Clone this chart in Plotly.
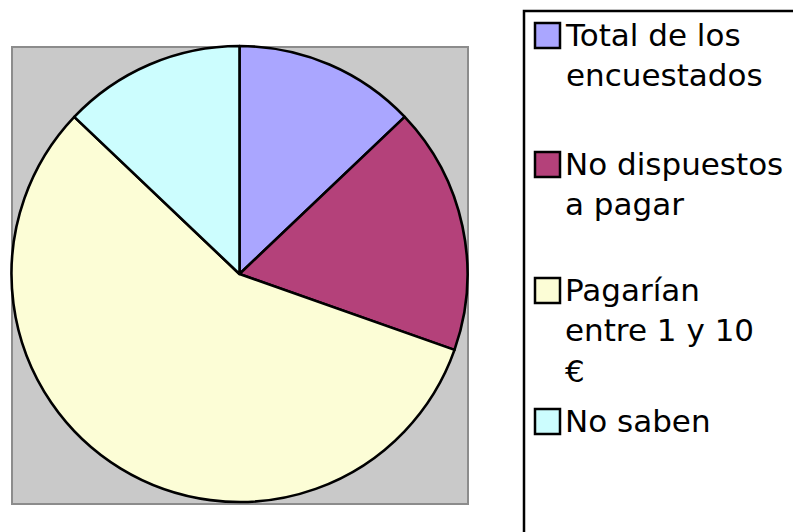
import plotly.graph_objects as go

# Survey answers (share of respondents, %)
labels = ["Total de los encuestados", "No dispuestos a pagar", "Pagarían entre 1 y 10 €", "No saben"]
legend_text = ["Total de los<br>encuestados", "No dispuestos<br>a pagar", "Pagarían<br>entre 1 y 10<br>€", "No saben"]
values = [12.9, 17.5, 56.7, 12.9]

slice_colors = ["#aaa6ff", "#b4417a", "#fcfdd6", "#ccfdfe"]

W, H = 793, 532


def px_x(x):
    return x / W


def px_y(y):
    return 1 - y / H


fig = go.Figure()

fig.add_trace(go.Pie(
    labels=labels,
    values=values,
    sort=False,
    direction="clockwise",
    rotation=0,
    textinfo="none",
    hoverinfo="label+percent",
    marker=dict(colors=slice_colors, line=dict(color="black", width=2.6)),
    domain=dict(x=[px_x(11.5), px_x(467.5)], y=[px_y(502), px_y(46)]),
    showlegend=False,
))

shapes = [
    # grey plot area behind the pie
    dict(type="rect", xref="paper", yref="paper",
         x0=px_x(12), x1=px_x(468), y0=px_y(504), y1=px_y(47),
         fillcolor="#c9c9c9", line=dict(color="#8c8c8c", width=2), layer="below"),
    # legend frame
    dict(type="rect", xref="paper", yref="paper",
         x0=px_x(524), x1=px_x(810), y0=px_y(560), y1=px_y(11),
         fillcolor="rgba(0,0,0,0)", line=dict(color="black", width=2.5), layer="above"),
]

annotations = []
swatch_tops = [23, 152, 278, 409]
for text, color, top in zip(legend_text, slice_colors, swatch_tops):
    shapes.append(dict(type="rect", xref="paper", yref="paper",
                       x0=px_x(535), x1=px_x(560), y0=px_y(top + 25), y1=px_y(top),
                       fillcolor=color, line=dict(color="black", width=2.5), layer="above"))
    annotations.append(dict(xref="paper", yref="paper", x=px_x(563), y=px_y(top - 8),
                            xanchor="left", yanchor="top", align="left", showarrow=False,
                            text=text, font=dict(family="DejaVu Sans", size=31, color="black")))

fig.update_layout(
    width=W, height=H,
    margin=dict(l=0, r=0, t=0, b=0),
    paper_bgcolor="white",
    plot_bgcolor="white",
    shapes=shapes,
    annotations=annotations,
    showlegend=False,
)

fig.write_html("out.html")
